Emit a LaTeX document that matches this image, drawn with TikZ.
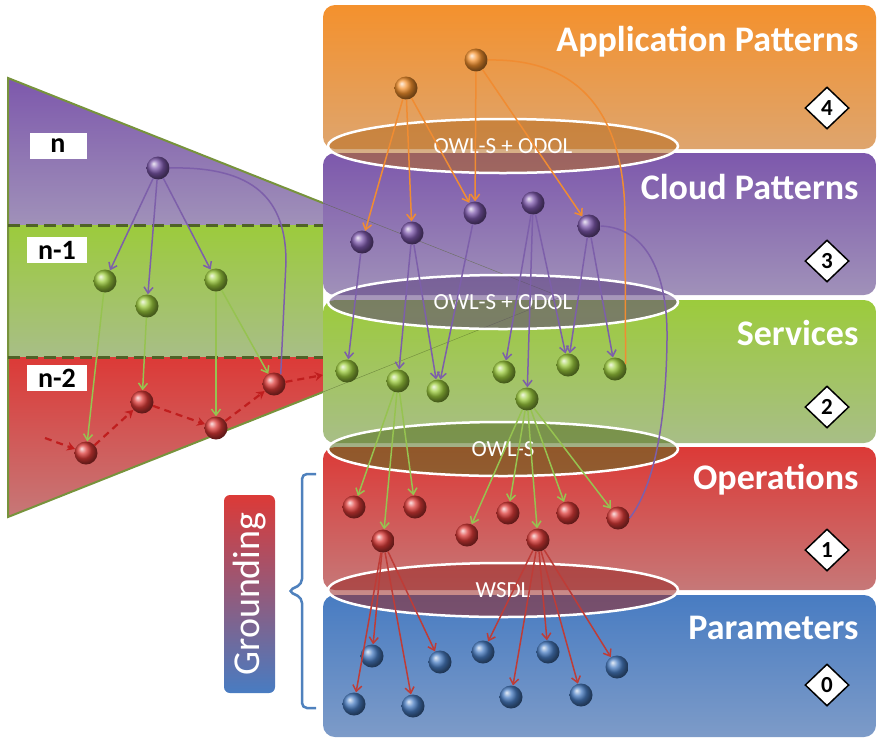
\documentclass[tikz,border=0pt]{standalone}
\usepackage{fontspec}
\setmainfont{Carlito}
\usepackage{xcolor}
\definecolor{apptop}{RGB}{244,145,45}
\definecolor{appbot}{RGB}{222,165,110}
\definecolor{cldtop}{RGB}{125,88,172}
\definecolor{cldbot}{RGB}{160,145,185}
\definecolor{srvtop}{RGB}{156,203,60}
\definecolor{srvbot}{RGB}{168,190,135}
\definecolor{optop}{RGB}{220,58,55}
\definecolor{opbot}{RGB}{198,120,120}
\definecolor{partop}{RGB}{72,124,194}
\definecolor{parbot}{RGB}{125,155,200}
\definecolor{edgeorange}{RGB}{240,140,50}
\definecolor{edgepurple}{RGB}{125,95,170}
\definecolor{edgegreen}{RGB}{150,195,80}
\definecolor{edgered}{RGB}{190,60,55}
\definecolor{wedgeline}{RGB}{119,147,60}
\definecolor{dashgreen}{RGB}{79,98,40}
\definecolor{dashred}{RGB}{192,30,30}
\definecolor{bracebl}{RGB}{79,129,189}
\usepackage{tikz}
\usetikzlibrary{arrows.meta, shapes.geometric}

\tikzset{
  layer/.style={rounded corners=12pt},
  title/.style={anchor=east, text=white, font=\fontsize{36}{40}\selectfont\bfseries},
  level/.style={diamond, draw=black, line width=1.5pt, fill=white, inner sep=0pt,
    minimum width=44pt, minimum height=42pt, font=\fontsize{23}{24}\selectfont\bfseries},
  lens/.style={ellipse, draw=white, line width=2.5pt, minimum width=350pt, minimum height=54pt,
    fill opacity=0.55, text opacity=1, text=white, font=\fontsize{23}{25}\selectfont},
  tag/.style={fill=white, inner sep=0pt, minimum width=60pt, minimum height=26pt,
    font=\fontsize{28}{28}\selectfont\bfseries},
  ball/.style={circle, inner sep=0pt, minimum size=23pt, shading=ball},
  oball/.style={ball, ball color=apptop},
  pball/.style={ball, ball color=cldtop},
  gball/.style={ball, ball color=srvtop},
  rball/.style={ball, ball color=optop},
  bball/.style={ball, ball color=partop},
  tip/.style={-{Straight Barb[length=6pt,width=9pt]}},
  oarrow/.style={tip, draw=edgeorange, line width=1.5pt},
  parrow/.style={tip, draw=edgepurple, line width=1.5pt},
  garrow/.style={tip, draw=edgegreen, line width=1.5pt},
  rarrow/.style={tip, draw=edgered, line width=1.5pt},
  walk/.style={draw=dashred, line width=2.2pt, dash pattern=on 7pt off 5pt,
    -{Stealth[length=8pt,width=9pt]}},
}

\begin{document}
\begin{tikzpicture}[x=1pt, y=-1pt]
  \useasboundingbox (0,0) rectangle (878,740);

  % --- Left wedge ---
  \shade[top color=cldtop, bottom color=cldbot] (8,78) -- (323,203) -- (323,225) -- (8,225) -- cycle;
  \shade[top color=srvtop, bottom color=srvbot] (8,225) rectangle (323,357);
  \shade[top color=optop, bottom color=opbot] (8,357) -- (323,357) -- (323,392) -- (8,517) -- cycle;
  \draw[wedgeline, line width=2pt] (323,203) -- (8,78) -- (8,517) -- (323,392);
  \draw[dashgreen, line width=3pt, dash pattern=on 12pt off 6pt] (8,225) -- (323,225);
  \draw[dashgreen, line width=3pt, dash pattern=on 12pt off 6pt] (8,357) -- (323,357);
  \node[tag, minimum width=57pt] (ln) at (58,146) {n};
  \node[tag] (ln1) at (57,250) {n-1};
  \node[tag] (ln2) at (57,378) {n-2};

  % --- Layers ---
  \shade[layer, top color=apptop, bottom color=appbot] (323,5) rectangle (876,149);
  \shade[layer, top color=cldtop, bottom color=cldbot] (323,153) rectangle (876,295);
  \shade[layer, top color=srvtop, bottom color=srvbot] (323,300) rectangle (876,443);
  \shade[layer, top color=optop, bottom color=opbot] (323,447) rectangle (876,590);
  \shade[layer, top color=partop, bottom color=parbot] (323,595) rectangle (876,737);
  \draw[dashgreen, opacity=0.6] (323,203) -- (561,297);
  \draw[dashgreen, opacity=0.6] (323,392) -- (561,297);

  \node[title] (tapp) at (862,42) {Application Patterns};
  \node[title] (tcld) at (862,187) {Cloud Patterns};
  \node[title] (tsrv) at (862,333) {Services};
  \node[title] (top) at (862,480) {Operations};
  \node[title] (tpar) at (862,628) {Parameters};
  \node[level] (lv4) at (827,108) {4};
  \node[level] (lv3) at (827,261) {3};
  \node[level] (lv2) at (827,407) {2};
  \node[level] (lv1) at (827,550) {1};
  \node[level] (lv0) at (827,685) {0};

  % --- Ontology lenses ---
  \node[lens, fill=apptop!75!black] (e1) at (503,146) {OWL-S + ODOL};
  \node[lens, fill=cldtop!75!black] (e2) at (503,302) {OWL-S + ODOL};
  \node[lens, fill=srvtop!55!black] (e3) at (503,449) {OWL-S};
  \node[lens, fill=optop!70!black] (e4) at (503,590) {WSDL};

  % --- Grounding ---
  \node[rotate=90, rounded corners=6pt, top color=optop, bottom color=partop, minimum width=198pt,
    minimum height=51pt, text=white, font=\fontsize{38}{40}\selectfont] (grd) at (249.5,594) {Grounding};
  \draw[bracebl, line width=2.5pt, rounded corners=5pt] (316,474) -- (302,474) -- (302,584)
    -- (288,591) -- (302,598) -- (302,708) -- (316,708);

  % --- Wedge nodes ---
  \node[pball] (wp) at (158,168) {};
  \node[gball] (wg1) at (105,281) {};
  \node[gball] (wg2) at (147,306) {};
  \node[gball] (wg3) at (216,280) {};
  \node[rball] (wr1) at (86,453) {};
  \node[rball] (wr2) at (142,402) {};
  \node[rball] (wr3) at (216,428) {};
  \node[rball] (wr4) at (274,384) {};
  \coordinate (win) at (45,438);
  \coordinate (wout) at (323,375);

  \draw[parrow] (wp) -- (wg1);
  \draw[parrow] (wp) -- (wg2);
  \draw[parrow] (wp) -- (wg3);
  \draw[edgepurple, line width=1.5pt] (wp.east) .. controls (255,166) and (286,200) .. (286,262) -- (wr4.55);
  \draw[garrow] (wg1) -- (wr1);
  \draw[garrow] (wg2) -- (wr2);
  \draw[garrow] (wg3) -- (wr3);
  \draw[garrow] (wg3) -- (wr4);
  \draw[walk] (win) -- (wr1);
  \draw[walk] (wr1) -- (wr2);
  \draw[walk] (wr2) -- (wr3);
  \draw[walk] (wr3) -- (wr4);
  \draw[walk] (wr4) -- (wout);

  % --- Layer nodes ---
  \node[oball] (o1) at (406,88) {};
  \node[oball] (o2) at (476,60) {};

  \node[pball] (c1) at (362,242) {};
  \node[pball] (c2) at (412,233) {};
  \node[pball] (c3) at (475,213) {};
  \node[pball] (c4) at (533,203) {};
  \node[pball] (c5) at (589,226) {};

  \node[gball] (s1) at (347,371) {};
  \node[gball] (s2) at (398,381) {};
  \node[gball] (s3) at (438,391) {};
  \node[gball] (s4) at (504,372) {};
  \node[gball] (s5) at (568,365) {};
  \node[gball] (s6) at (615,369) {};
  \node[gball] (s7) at (527,399) {};

  \node[rball] (op1) at (354,507) {};
  \node[rball] (op2) at (415,507) {};
  \node[rball] (op3) at (508,513) {};
  \node[rball] (op4) at (568,513) {};
  \node[rball] (op5) at (618,518) {};
  \node[rball] (op6) at (383,541) {};
  \node[rball] (op7) at (467,535) {};
  \node[rball] (op8) at (538,540) {};

  \node[bball] (p1) at (372,656) {};
  \node[bball] (p2) at (440,662) {};
  \node[bball] (p3) at (483,652) {};
  \node[bball] (p4) at (548,652) {};
  \node[bball] (p5) at (617,667) {};
  \node[bball] (p6) at (354,704) {};
  \node[bball] (p7) at (413,706) {};
  \node[bball] (p8) at (511,697) {};
  \node[bball] (p9) at (581,695) {};

  % Application -> Cloud
  \draw[oarrow] (o1) -- (c1);
  \draw[oarrow] (o1) -- (c2);
  \draw[oarrow] (o1) -- (c3);
  \draw[oarrow] (o2) -- (c3);
  \draw[oarrow] (o2) -- (c5);
  \draw[edgeorange, line width=1.5pt] (o2.east) .. controls (585,58) and (625,120) .. (625,220) -- (s6.25);

  % Cloud -> Services
  \draw[parrow] (c1) -- (s1);
  \draw[parrow] (c2) -- (s2);
  \draw[parrow] (c2) -- (s3);
  \draw[parrow] (c3) -- (s3);
  \draw[parrow] (c4) -- (s4);
  \draw[parrow] (c4) -- (s7);
  \draw[parrow] (c4) -- (s5);
  \draw[parrow] (c5) -- (s5);
  \draw[parrow] (c5) -- (s6);
  \draw[edgepurple, line width=1.5pt] (c5.east) .. controls (650,228) and (668,280) .. (667,340)
    .. controls (666,420) and (655,485) .. (op5.east);

  % Services -> Operations
  \draw[garrow] (s2) -- (op1);
  \draw[garrow] (s2) -- (op6);
  \draw[garrow] (s2) -- (op2);
  \draw[garrow] (s7) -- (op7);
  \draw[garrow] (s7) -- (op3);
  \draw[garrow] (s7) -- (op8);
  \draw[garrow] (s7) -- (op4);
  \draw[garrow] (s7) -- (op5);

  % Operations -> Parameters
  \draw[rarrow] (op6) -- (p6);
  \draw[rarrow] (op6) -- (p1);
  \draw[rarrow] (op6) -- (p7);
  \draw[rarrow] (op6) -- (p2);
  \draw[rarrow] (op8) -- (p3);
  \draw[rarrow] (op8) -- (p8);
  \draw[rarrow] (op8) -- (p4);
  \draw[rarrow] (op8) -- (p9);
  \draw[rarrow] (op8) -- (p5);
\end{tikzpicture}
\end{document}
